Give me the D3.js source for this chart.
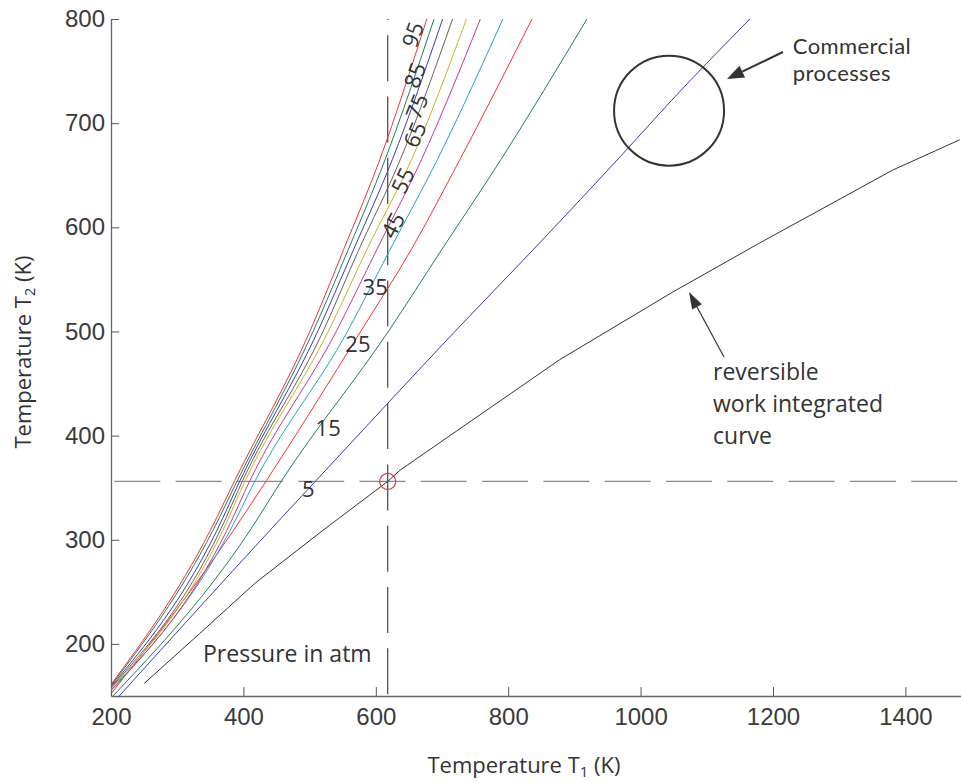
<!DOCTYPE html>
<html><head><meta charset="utf-8">
<script src="https://cdn.jsdelivr.net/npm/d3@7"></script>
<style>body{margin:0;background:#fff;} svg{display:block;}</style>
</head><body>
<svg id="chart" width="961" height="782"></svg>
<script>
// ---------- data ----------
const xTicks = [200, 400, 600, 800, 1000, 1200, 1400];
const yTicks = [200, 300, 400, 500, 600, 700, 800];
const pressureLabels = ["5", "15", "25", "35", "45", "55", "65", "75", "85", "95"];
// each series: [T1 (K), T2 (K)]
const p5  = [[211,149],[440,309],[510,357],[618,431],[721,501],[837,578],[981,676],[1047,722],[1165,800]];
const p15 = [[203,150],[410,309],[458,357],[620,501],[699,578],[789,665],[919,800]];
const p25 = [[201,153],[385,309],[435,357],[578,501],[653,578],[727,665],[836,800]];
const p35 = [[200,155],[380,309],[418,357],[558,501],[621,578],[693,665],[792,800]];
const p45 = [[200,156],[375,309],[410,357],[541,501],[601,578],[669,665],[758,800]];
const p55 = [[200,157],[369,309],[403,357],[529,501],[586,578],[654,665],[737,800]];
const p65 = [[200,158],[365,309],[399,357],[521,501],[574,578],[637,665],[716,800]];
const p75 = [[200,159],[360,309],[395,357],[513,501],[566,578],[625,665],[701,800]];
const p85 = [[200,160],[354,309],[391,357],[506,501],[558,578],[614,665],[688,800]];
const p95 = [[200,161],[350,309],[387,357],[501,501],[551,578],[606,665],[677,800]];
const reversible = [[250,162],[334,210],[417,258],[520,309],[618,356],[637,367],[878,473],[1049,538],[1180,585],[1381,655],[1482,684]];
const pressureSeries = [p5, p15, p25, p35, p45, p55, p65, p75, p85, p95];
// label anchor (T1, T2) and rotation for each isobar label
const labelPos = [[498,349],[528,407],[573,488],[599,543],[626,602],[641,645],[659,689],[662,716],[659,746],[656,785]];
const labelRot = [0, 0, 0, 0, -62, -65, -67, -68, -70, -71];
const operatingPoint = [618, 356];
const commercialCenter = [1043, 712];

const colors = ["#3c3ca8","#1e7f5c","#f53030","#1fa4c9","#c8359a","#c9b320","#6d5f5f","#3c3ca8","#1e7f5c","#f53030"];

// ---------- scales ----------
const svg = d3.select("#chart");
const W = 961, H = 782;
svg.append("rect").attr("width", W).attr("height", H).attr("fill", "#fff");
const x = d3.scaleLinear().domain([200, 1500]).range([111, 971.6]);
const y = d3.scaleLinear().domain([150, 800]).range([696, 19]);
const tickFont = "'Liberation Sans', Arial, sans-serif";
const textFont = "'Open Sans', 'Noto Sans', sans-serif";
const textCol = "#333";

svg.append("defs").append("clipPath").attr("id", "plot")
  .append("rect").attr("x", 111).attr("y", 18).attr("width", W - 111).attr("height", 679);

// ---------- axes ----------
const yAxis = d3.axisLeft(y).tickValues(yTicks).tickFormat(d3.format("d"))
  .tickSizeInner(-8).tickSizeOuter(0).tickPadding(6);
const gy = svg.append("g").attr("transform", `translate(${x(200)},0)`).call(yAxis);
const xAxis = d3.axisBottom(x).tickValues(xTicks).tickFormat(d3.format("d"))
  .tickSizeInner(-9).tickSizeOuter(0).tickPadding(12);
const gx = svg.append("g").attr("transform", `translate(0,${y(150)})`).call(xAxis);
[gx, gy].forEach(g => {
  g.select(".domain").attr("stroke", "#666").attr("stroke-width", 1.3);
  g.selectAll(".tick line").attr("stroke", "#555");
  g.selectAll(".tick text").attr("fill", "#3a3a3a").style("font-family", tickFont).style("font-size", "24px");
});

// ---------- dashed guide lines ----------
const guides = svg.append("g");
guides.append("line")
  .attr("x1", x(operatingPoint[0])).attr("x2", x(operatingPoint[0]))
  .attr("y1", y(800)).attr("y2", y(150))
  .attr("stroke", "#444").attr("stroke-width", 1.2)
  .attr("stroke-dasharray", "46,15.3").attr("stroke-dashoffset", 45);
guides.append("line")
  .attr("x1", x(200)).attr("x2", W)
  .attr("y1", y(operatingPoint[1])).attr("y2", y(operatingPoint[1]))
  .attr("stroke", "#888").attr("stroke-width", 1.3)
  .attr("stroke-dasharray", "46,15.3").attr("stroke-dashoffset", 58);

// ---------- curves ----------
const smooth = d3.line().curve(d3.curveMonotoneX).x(d => x(d[0])).y(d => y(d[1]));
const straight = d3.line().x(d => x(d[0])).y(d => y(d[1]));
const curves = svg.append("g").attr("clip-path", "url(#plot)");
pressureSeries.forEach((s, i) => {
  curves.append("path").datum(s).attr("d", smooth)
    .attr("fill", "none").attr("stroke", colors[i]).attr("stroke-width", 1);
});
curves.append("path").datum(reversible).attr("d", straight)
  .attr("fill", "none").attr("stroke", "#333").attr("stroke-width", 1);

// operating point marker
svg.append("circle").attr("cx", x(operatingPoint[0])).attr("cy", y(operatingPoint[1])).attr("r", 8)
  .attr("fill", "none").attr("stroke", "#e8383d").attr("stroke-width", 1.2);

// isobar labels
labelPos.forEach((p, i) => {
  svg.append("text")
    .attr("transform", `translate(${x(p[0])},${y(p[1])}) rotate(${labelRot[i]})`)
    .attr("text-anchor", "middle").attr("dy", "0.36em")
    .attr("fill", textCol).style("font-family", textFont).style("font-size", "22px")
    .text(pressureLabels[i]);
});

// ---------- annotations ----------
svg.append("text").attr("x", x(339)).attr("y", y(182.6))
  .attr("fill", textCol).style("font-family", textFont).style("font-size", "23px")
  .text("Pressure in atm");

svg.append("circle").attr("cx", x(commercialCenter[0])).attr("cy", y(commercialCenter[1])).attr("r", 55)
  .attr("fill", "none").attr("stroke", "#333").attr("stroke-width", 2);

function arrow(from, to, width, headLen, headW) {
  const x1 = x(from[0]), y1 = y(from[1]), x2 = x(to[0]), y2 = y(to[1]);
  const a = Math.atan2(y2 - y1, x2 - x1);
  const bx = x2 - headLen * Math.cos(a), by = y2 - headLen * Math.sin(a);
  svg.append("line").attr("x1", x1).attr("y1", y1).attr("x2", bx).attr("y2", by)
    .attr("stroke", "#333").attr("stroke-width", width);
  const px = -Math.sin(a) * headW / 2, py = Math.cos(a) * headW / 2;
  svg.append("path").attr("d", `M${x2},${y2}L${bx + px},${by + py}L${bx - px},${by - py}Z`).attr("fill", "#333");
}
arrow([1215, 768.3], [1130.5, 742.4], 2, 17, 13);
arrow([1126, 475.5], [1073, 537.9], 1.2, 17, 11);

["Commercial", "processes"].forEach((t, i) => {
  svg.append("text").attr("x", x(1230)).attr("y", y(766.4) + i * 27)
    .attr("fill", textCol).style("font-family", "Lato, 'Open Sans', sans-serif").style("font-size", "22px")
    .style("letter-spacing", "0.4px").text(t);
});

const rev = svg.append("text").attr("fill", textCol).style("font-family", textFont).style("font-size", "23px");
["reversible", "work integrated", "curve"].forEach((t, i) => {
  rev.append("tspan").attr("x", x(1109.4)).attr("y", y(453.4) + i * 32).text(t);
});

// ---------- axis titles ----------
const xt = svg.append("text").attr("x", 524).attr("y", 773).attr("text-anchor", "middle")
  .attr("fill", textCol).style("font-family", textFont).style("font-size", "22px");
xt.append("tspan").text("Temperature T");
xt.append("tspan").attr("dy", 4).style("font-size", "15px").text("1");
xt.append("tspan").attr("dy", -4).text(" (K)");

const yt = svg.append("text").attr("transform", "translate(31,352) rotate(-90)").attr("text-anchor", "middle")
  .attr("fill", textCol).style("font-family", textFont).style("font-size", "22px");
yt.append("tspan").text("Temperature T");
yt.append("tspan").attr("dy", 4).style("font-size", "15px").text("2");
yt.append("tspan").attr("dy", -4).text(" (K)");
</script>
</body></html>
